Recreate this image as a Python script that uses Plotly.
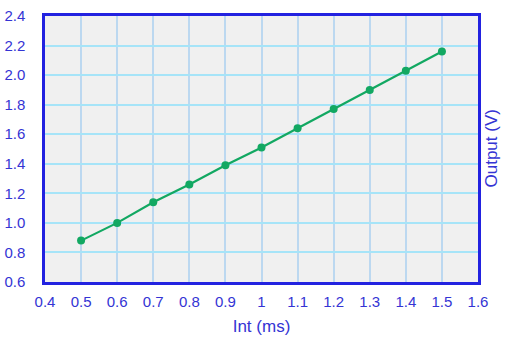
import plotly.graph_objects as go

int_ms = [0.5, 0.6, 0.7, 0.8, 0.9, 1.0, 1.1, 1.2, 1.3, 1.4, 1.5]
output_v = [0.88, 1.00, 1.14, 1.26, 1.39, 1.51, 1.64, 1.77, 1.90, 2.03, 2.16]
x_ticks = [0.4, 0.5, 0.6, 0.7, 0.8, 0.9, 1.0, 1.1, 1.2, 1.3, 1.4, 1.5, 1.6]
x_labels = ["0.4", "0.5", "0.6", "0.7", "0.8", "0.9", "1", "1.1", "1.2", "1.3", "1.4", "1.5", "1.6"]
y_ticks = [0.6, 0.8, 1.0, 1.2, 1.4, 1.6, 1.8, 2.0, 2.2, 2.4]
y_labels = ["0.6", "0.8", "1.0", "1.2", "1.4", "1.6", "1.8", "2.0", "2.2", "2.4"]

blue = "#2222e0"
txt = "#3434d4"

fig = go.Figure(go.Scatter(
    x=int_ms, y=output_v, mode="lines+markers",
    line=dict(color="#12a862", width=2.2),
    marker=dict(color="#12a862", size=8),
))

fig.update_layout(
    width=514, height=347,
    margin=dict(l=45, r=36, t=16, b=65),
    paper_bgcolor="white", plot_bgcolor="#f0f0f0",
    showlegend=False,
    font=dict(family="Liberation Sans, Arial", size=15, color=txt),
    xaxis=dict(range=[0.4, 1.6], tickvals=x_ticks, ticktext=x_labels,
               showgrid=True, gridcolor="#bcd8f0", gridwidth=1.5,
               showline=True, linecolor=blue, linewidth=2.5, mirror=True,
               zeroline=False, ticks="", ticklen=0, ticklabelstandoff=4,
               automargin=False,
               title=dict(text="Int (ms)", font=dict(size=17, color=txt), standoff=12)),
    yaxis=dict(range=[0.6, 2.4], tickvals=y_ticks, ticktext=y_labels,
               showgrid=True, gridcolor="#a6e4f8", gridwidth=1.5,
               showline=True, linecolor=blue, linewidth=2.5, mirror=True,
               zeroline=False, ticks="", ticklen=0, ticklabelstandoff=14,
               automargin=False),
    annotations=[dict(text="Output (V)", x=1, y=0.5, xref="paper", yref="paper",
                      xanchor="left", yanchor="middle", xshift=1, textangle=-90,
                      showarrow=False, font=dict(size=17, color=txt))],
)

fig.write_html("out.html")
